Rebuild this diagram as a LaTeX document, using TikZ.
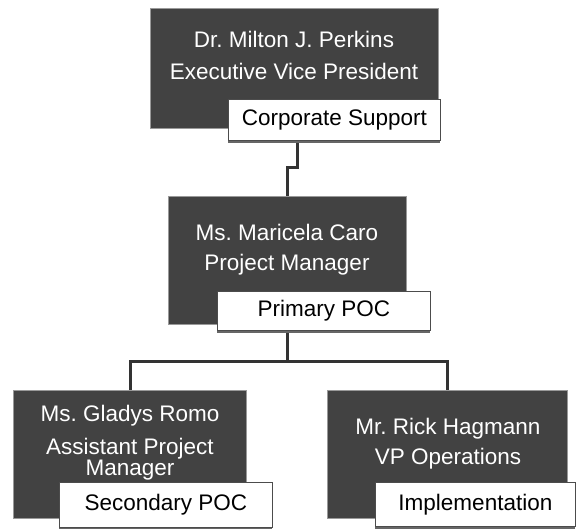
\documentclass[tikz,border=0pt]{standalone}
\usepackage{fontspec}
\setmainfont{Liberation Sans}
\usetikzlibrary{shadows}
\frenchspacing
\begin{document}
\begin{tikzpicture}[x=1pt,y=-1pt,
  darkbox/.style={draw=black!40, line width=1.2pt, fill=black!74, inner sep=0pt, anchor=north west},
  labelbox/.style={draw=black!70, line width=0.8pt, fill=white, inner sep=0pt, anchor=north west,
    font=\fontsize{22.5}{27}\selectfont, text=black,
    drop shadow={shadow xshift=0pt, shadow yshift=-2.5pt, fill=black!60, opacity=1}},
  nametext/.style={text=white, align=center, inner sep=0pt, anchor=north},
  conn/.style={draw=black!80, line width=3pt}]
\useasboundingbox (0,0) rectangle (579,529);

% dark boxes
\node[darkbox, minimum width=288pt, minimum height=120pt] (top) at (150,8) {};
\node[darkbox, minimum width=238pt, minimum height=128pt] (mid) at (168,196) {};
\node[darkbox, minimum width=233pt, minimum height=128pt] (bl) at (13,390) {};
\node[darkbox, minimum width=240pt, minimum height=128pt] (br) at (327,390) {};

% connectors
\draw[conn] ([xshift=3pt]top.south) -- ++(0,38) -| (mid.north);
\draw[conn] (mid.south) -- ++(0,36) coordinate (jn);
\draw[conn] (bl.north) |- (jn) -| (br.north);

% labels
\node[labelbox, minimum width=212pt, minimum height=41pt] (toplab) at (228,99) {Corporate Support};
\node[labelbox, minimum width=213pt, minimum height=39pt] (midlab) at (217,291) {Primary POC};
\node[labelbox, minimum width=213pt, minimum height=45pt] (bllab) at (59,482) {Secondary POC};
\node[labelbox, minimum width=200pt, minimum height=44pt] (brlab) at (375,482) {Implementation};

% names
\node[nametext, font=\fontsize{22.5}{32}\selectfont] (topname) at (294,31) {Dr. Milton J. Perkins\\Executive Vice President};
\node[nametext, font=\fontsize{22.5}{30}\selectfont] (midname) at (287,224) {Ms. Maricela Caro\\Project Manager};
\node[nametext, font=\fontsize{22.5}{33}\selectfont] (blname) at (130,405) {Ms. Gladys Romo\\Assistant Project\\[-12pt]Manager};
\node[nametext, font=\fontsize{22.5}{30}\selectfont] (brname) at (448,418) {Mr. Rick Hagmann\\VP Operations};
\end{tikzpicture}
\end{document}
